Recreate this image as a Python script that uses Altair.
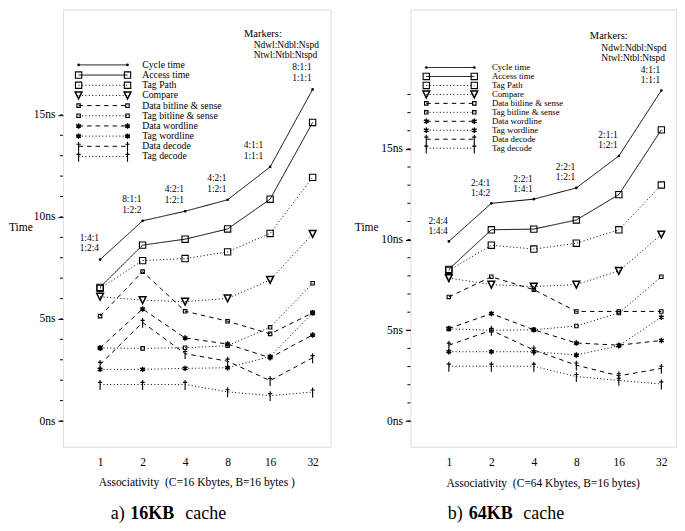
import altair as alt
import pandas as pd

FONT = "Liberation Serif"

# ---------------- data ----------------
assoc_labels = ["1", "2", "4", "8", "16", "32"]
series_names = ["Cycle time", "Access time", "Tag Path", "Compare",
                "Data bitline & sense", "Tag bitline & sense",
                "Data wordline", "Tag wordline", "Data decode", "Tag decode"]

# 16KB cache (ns)
cycle_16 = [7.91, 9.81, 10.28, 10.84, 12.45, 16.25]
access_16 = [6.55, 8.62, 8.91, 9.41, 10.87, 14.63]
tagpath_16 = [6.50, 7.86, 7.96, 8.29, 9.19, 11.94]
compare_16 = [6.09, 5.92, 5.85, 6.01, 6.91, 9.17]
dbit_16 = [5.14, 7.32, 5.38, 4.89, 4.27, 5.30]
tbit_16 = [3.58, 3.56, 3.59, 3.69, 4.59, 6.75]
dwl_16 = [3.58, 5.49, 4.07, 3.77, 3.10, 4.22]
twl_16 = [2.53, 2.53, 2.58, 2.61, 3.16, 5.30]
ddec_16 = [2.77, 4.83, 3.30, 2.93, 1.98, 3.10]
tdec_16 = [1.79, 1.79, 1.79, 1.43, 1.24, 1.42]
ann_top_16 = ["1:4:1", "8:1:1", "4:2:1", "4:2:1", "4:1:1", "8:1:1"]
ann_bot_16 = ["1:2:4", "1:2:2", "1:2:1", "1:2:1", "1:1:1", "1:1:1"]

# 64KB cache (ns)
cycle_64 = [9.90, 12.00, 12.23, 12.85, 14.61, 18.22]
access_64 = [8.36, 10.54, 10.58, 11.08, 12.48, 16.05]
tagpath_64 = [8.30, 9.69, 9.48, 9.80, 10.54, 13.01]
compare_64 = [7.88, 7.52, 7.41, 7.52, 8.27, 10.28]
dbit_64 = [6.84, 7.95, 7.24, 6.04, 6.04, 6.04]
tbit_64 = [5.08, 5.00, 5.03, 5.24, 5.95, 7.95]
dwl_64 = [5.10, 5.92, 5.03, 4.30, 4.18, 4.44]
twl_64 = [3.82, 3.82, 3.82, 3.64, 4.15, 5.72]
ddec_64 = [4.18, 5.00, 3.91, 3.08, 2.49, 2.90]
tdec_64 = [3.02, 3.02, 3.02, 2.45, 2.24, 2.04]
ann_top_64 = ["2:4:4", "2:4:1", "2:2:1", "2:2:1", "2:1:1", "4:1:1"]
ann_bot_64 = ["1:4:4", "1:4:2", "1:4:1", "1:2:1", "1:2:1", "1:1:1"]

y_major = [0, 5, 10, 15]
markers_title = "Markers:"
markers_lines = ["Ndwl:Ndbl:Nspd", "Ntwl:Ntbl:Ntspd"]
x_title_16 = "Associativity\u00a0\u00a0(C=16 Kbytes, B=16 bytes )"
x_title_64 = "Associativity\u00a0\u00a0(C=64 Kbytes, B=16 bytes)"
title_16 = ["a)", "16KB", "cache"]
title_64 = ["b)", "64KB", "cache"]

# ---------------- styles ----------------
SOLID, DOT, DASH = [1, 0], [1, 2.4], [4.5, 4]
dash_range = [SOLID, SOLID, DOT, DOT, DASH, DOT, DASH, DOT, DASH, DOT]
ASTER = "M0,-1L0,1M-0.87,-0.5L0.87,0.5M-0.87,0.5L0.87,-0.5"
DAGGER = "M0,-1.5L0,1.8M-0.7,-0.7L0.7,-0.7"
NABLA = "M-1,-1L1,-1L0,1Z"
MARKERS = [
    (["Cycle time"], dict(shape="circle", size=7, filled=True, strokeWidth=1)),
    (["Access time", "Tag Path"], dict(shape="square", size=40, filled=False, strokeWidth=1.1)),
    (["Compare"], dict(shape=NABLA, size=46, filled=False, strokeWidth=1.5)),
    (["Data bitline & sense", "Tag bitline & sense"], dict(shape="square", size=12, filled=False, strokeWidth=1.1)),
    (["Data wordline", "Tag wordline"], dict(shape=ASTER, size=30, filled=False, strokeWidth=1.5)),
    (["Data decode", "Tag decode"], dict(shape=DAGGER, size=36, filled=False, strokeWidth=1.1)),
]

label_expr = "[" + ",".join("'%s'" % s for s in assoc_labels) + "][datum.value]"


def long_frame(cols):
    rows = []
    for name, vals in zip(series_names, cols):
        for i, v in enumerate(vals):
            rows.append({"series": name, "pos": i, "value": v})
    return pd.DataFrame(rows)


def panel(cols, ann_top, ann_bot, x_title, title_parts, cfg):
    W, H = cfg["w"], cfg["h"]
    px_per_unit = W / (cfg["xdom"][1] - cfg["xdom"][0])
    X = alt.X("pos:Q", scale=alt.Scale(domain=cfg["xdom"], nice=False, zero=False),
              axis=alt.Axis(values=list(range(len(assoc_labels))), labelExpr=label_expr,
                            title=None, ticks=False, tickSize=0, domain=False, grid=False,
                            labelPadding=9.5, labelFontSize=11.5, labelFont=FONT,
                            labelColor="black", labelBaseline="top"))
    Y = alt.Y("value:Q", scale=alt.Scale(domain=cfg["ydom"], nice=False, zero=False),
              axis=alt.Axis(values=y_major, labelExpr="datum.value + 'ns'", title=None,
                            tickSize=5, tickColor="black", tickWidth=1, labelPadding=3,
                            domain=False, grid=False, labelFontSize=11.5, labelFont=FONT,
                            labelColor="black"))
    dash = alt.StrokeDash("series:N", scale=alt.Scale(domain=series_names, range=dash_range),
                          legend=None)
    df = long_frame(cols)
    base = alt.Chart(df)
    layers = []
    # minor ticks
    layers.append(alt.Chart(pd.DataFrame({"value": list(range(cfg["minor_max"] + 1))}))
                  .mark_rule(color="black", strokeWidth=1)
                  .encode(y=Y, x=alt.value(0), x2=alt.value(-3)))
    layers.append(base.mark_line(color="black", strokeWidth=1)
                  .encode(x=X, y=Y, strokeDash=dash, detail="series:N"))
    for names, st in MARKERS:
        layers.append(base.transform_filter(alt.FieldOneOfPredicate(field="series", oneOf=names))
                      .mark_point(color="black", opacity=1, **st)
                      .encode(x=X, y=Y))
    # configuration annotations
    nud = cfg["nudge"]
    ann_df = pd.DataFrame({
        "pos": [i + nud.get(i, 0) / px_per_unit for i in range(len(assoc_labels))],
        "value": cols[0], "top": ann_top, "bot": ann_bot})
    for fld, dy in (("top", cfg["dy_top"]), ("bot", cfg["dy_bot"])):
        layers.append(alt.Chart(ann_df).mark_text(align="right", baseline="middle", dx=-1, dy=dy,
                                                  fontSize=9.5, font=FONT, color="black")
                      .encode(x=X, y=Y, text=f"{fld}:N"))
    # legend
    lx1, lx2, ltx = cfg["leg_x"]
    y0, dyl = cfg["leg_y"]
    leg = pd.DataFrame({"series": series_names,
                        "ly": [y0 + i * dyl for i in range(len(series_names))],
                        "lx1": lx1, "lx2": lx2})
    LY = alt.Y("ly:Q", scale=None, axis=None)
    layers.append(alt.Chart(leg).mark_rule(color="black", strokeWidth=1)
                  .encode(x=alt.X("lx1:Q", scale=None, axis=None), x2="lx2:Q", y=LY,
                          strokeDash=dash))
    leg_pts = pd.concat([leg.assign(lx=lx1), leg.assign(lx=lx2)])
    for names, st in MARKERS:
        layers.append(alt.Chart(leg_pts)
                      .transform_filter(alt.FieldOneOfPredicate(field="series", oneOf=names))
                      .mark_point(color="black", opacity=1, **st)
                      .encode(x=alt.X("lx:Q", scale=None, axis=None), y=LY))
    layers.append(alt.Chart(leg).mark_text(align="left", baseline="middle",
                                           fontSize=cfg["leg_font"],
                                           font=FONT, color="black")
                  .encode(x=alt.value(ltx), y=LY, text="series:N"))
    # other texts
    one = pd.DataFrame({"k": [0]})

    def txt(t, x, y, **kw):
        props = dict(font=FONT, color="black", text=t)
        props.update(kw)
        return alt.Chart(one).mark_text(**props).encode(x=alt.value(x), y=alt.value(y))

    mx, my = cfg["markers"]
    layers.append(txt(markers_title, mx[0], my[0], align="left", baseline="middle", fontSize=10.5))
    layers.append(txt(markers_lines[0], mx[1], my[1], align="left", baseline="middle", fontSize=9.5))
    layers.append(txt(markers_lines[1], mx[1], my[2], align="left", baseline="middle", fontSize=9.5))
    layers.append(txt("Time", cfg["time_x"], 219.2, align="left", baseline="middle", fontSize=11.5))
    layers.append(txt(x_title, W / 2, cfg["xtitle_y"], align="center", baseline="middle", fontSize=11.5))
    tx = cfg["title_x"]
    layers.append(txt(title_parts[0], tx[0], 510, align="left", baseline="alphabetic", fontSize=18))
    layers.append(txt(title_parts[1], tx[1], 510, align="left", baseline="alphabetic", fontSize=18,
                      fontWeight="bold"))
    layers.append(txt(title_parts[2], tx[2], 510, align="left", baseline="alphabetic", fontSize=18))
    return alt.layer(*layers).properties(width=W, height=H)


cfg16 = dict(w=268, h=438, xdom=[-0.8746, 5.421], ydom=[-1.26, 20.17], minor_max=15,
             dy_top=-22, dy_bot=-11.2, nudge={4: -6},
             leg_x=(15.7, 64.7, 79.4), leg_y=(55.6, 10.19), leg_font=9.8,
             markers=((181.4, 191.0), (24.3, 35.9, 45.6)), time_x=-54, xtitle_y=474.3,
             title_x=(48, 67.5, 122.5))
cfg64 = dict(w=266, h=438, xdom=[-0.9046, 5.345], ydom=[-1.417, 22.69], minor_max=18,
             dy_top=-20.5, dy_bot=-10.5, nudge={},
             leg_x=(15.9, 64.0, 81.6), leg_y=(58.2, 8.98), leg_font=8.8,
             markers=((179.7, 191.2), (26.2, 38.8, 48.5)), time_x=-55.7, xtitle_y=475.3,
             title_x=(37.5, 58.5, 113.0))

left = panel([cycle_16, access_16, tagpath_16, compare_16, dbit_16, tbit_16, dwl_16, twl_16,
              ddec_16, tdec_16], ann_top_16, ann_bot_16, x_title_16, title_16, cfg16)
right = panel([cycle_64, access_64, tagpath_64, compare_64, dbit_64, tbit_64, dwl_64, twl_64,
               ddec_64, tdec_64], ann_top_64, ann_bot_64, x_title_64, title_64, cfg64)

chart = (alt.hconcat(left, right, spacing=80, bounds="flush")
         .properties(padding=0)
         .configure_view(stroke="black", strokeWidth=1.2)
         .configure(background="white"))

chart.save("out.html", embed_options={"renderer": "svg", "actions": False})
